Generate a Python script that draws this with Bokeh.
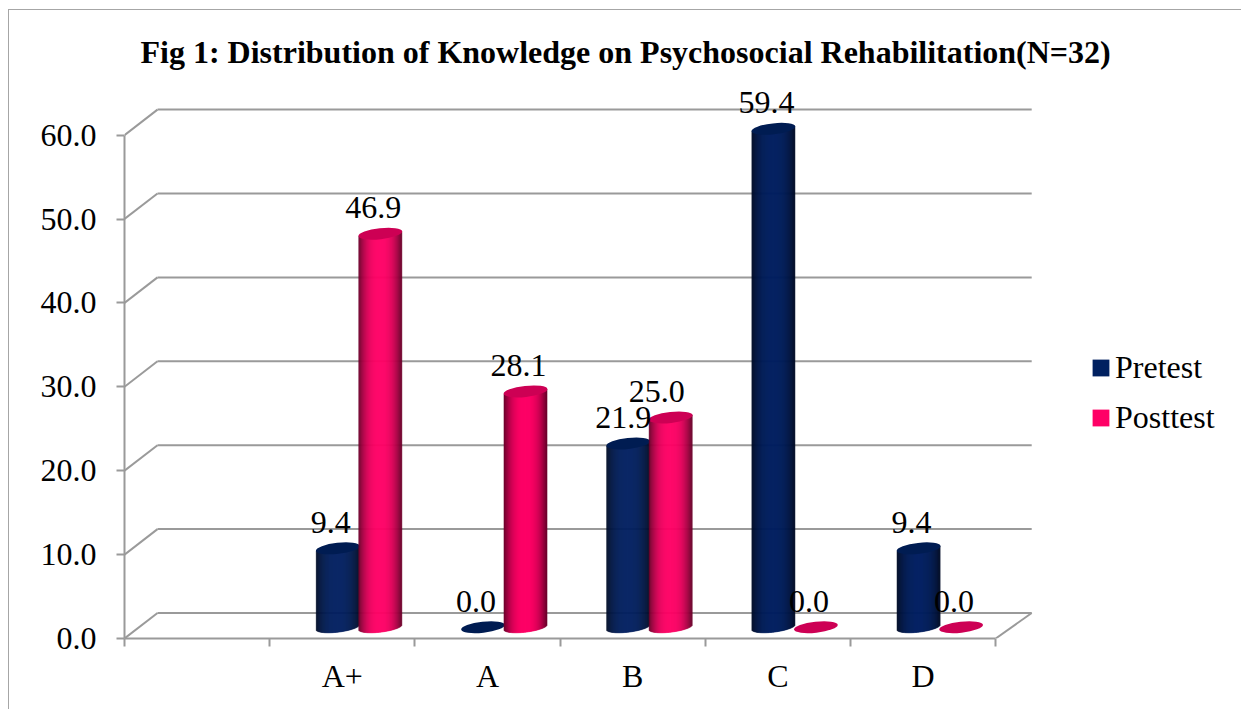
import math
from bokeh.plotting import figure
from bokeh.embed import file_html
from bokeh.resources import INLINE
from bokeh.core.properties import value
from bokeh.models import (ColumnDataSource, FixedTicker, NumeralTickFormatter,
                          Legend, LegendItem, Range1d)

categories = ["", "A+", "A", "B", "C", "D"]
pretest = [None, 9.4, 0.0, 21.9, 59.4, 9.4]
posttest = [None, 46.9, 28.1, 25.0, 0.0, 0.0]
y_ticks = [0, 10, 20, 30, 40, 50, 60]
title_text = "Fig 1: Distribution of Knowledge on Psychosocial Rehabilitation(N=32)"

FONT = "Liberation Serif"
GREY = "#9a9a9a"
NAVY = (0, 32, 96)
PINK = (255, 0, 102)
W, H = 1233, 700
LEFT, BOTTOM, TOP = 115, 72, 75          # px of figure reserved around the frame
PX_X, PX_Y = 145.2, 8.39                 # px per category / per value unit
DEPTH_X, DEPTH_Y = 33 / PX_X, 25.5 / PX_Y  # wall depth
RIGHT_EXTRA = 3 / PX_X
FRONT_X, FRONT_Y = 14 / PX_X, 11.3 / PX_Y
BAR_W = 43
HALF_E = 5
TILT = 2.5

p = figure(width=W, height=H, output_backend="svg", toolbar_location=None,
           margin=(9, 0, 0, 8),
           x_range=Range1d(0, (W - LEFT) / PX_X),
           y_range=Range1d(0, (H - BOTTOM - TOP) / PX_Y),
           min_border_left=LEFT, min_border_right=0, min_border_top=TOP, min_border_bottom=BOTTOM,
           background_fill_color="white", border_fill_color="white", outline_line_color=None)
p.styles = {"border-left": "1px solid #a6a6a6", "border-top": "1px solid #a6a6a6", "box-sizing": "border-box"}
p.grid.visible = False

p.title.text = title_text
p.title.text_font = FONT
p.title.text_font_size = "32px"
p.title.text_font_style = "bold"
p.title.text_color = "black"
p.title.align = "left"
p.title.offset = 16
p.title.standoff = 31

ax = p.yaxis[0]
ax.ticker = FixedTicker(ticks=y_ticks)
ax.bounds = (0, 60)
ax.formatter = NumeralTickFormatter(format="0.0")
ax.major_label_text_font = FONT
ax.major_label_text_font_size = "32px"
ax.major_label_text_color = "black"
ax.major_tick_in = 0
ax.major_tick_out = 8
ax.minor_tick_out = 0
ax.minor_tick_in = 0
ax.major_label_standoff = 20
ax.axis_line_color = GREY
ax.axis_line_width = 2
ax.major_tick_line_color = GREY
ax.major_tick_line_width = 2

n = len(categories)
bx = p.xaxis[0]
bx.ticker = FixedTicker(ticks=[i + 0.5 for i in range(n)], minor_ticks=list(range(n + 1)))
bx.bounds = (0, n)
bx.major_label_overrides = {i + 0.5: c for i, c in enumerate(categories)}
bx.major_label_text_font = FONT
bx.major_label_text_font_size = "32px"
bx.major_label_text_color = "black"
bx.major_tick_in = 0
bx.major_tick_out = 0
bx.minor_tick_in = 0
bx.minor_tick_out = 8
bx.major_label_standoff = 11
bx.axis_line_color = GREY
bx.axis_line_width = 2
bx.minor_tick_line_color = GREY
bx.minor_tick_line_width = 2

# walls
for v in y_ticks:
    p.line([0, DEPTH_X], [v, v + DEPTH_Y], line_color=GREY, line_width=2)
    p.line([DEPTH_X, n + DEPTH_X + RIGHT_EXTRA], [v + DEPTH_Y, v + DEPTH_Y], line_color=GREY, line_width=2)
p.line([n, n + DEPTH_X + RIGHT_EXTRA], [0, DEPTH_Y], line_color=GREY, line_width=2)


def shade(rgb, u):
    f = 1 - 0.6 * abs(u) ** 2.5
    return "#%02x%02x%02x" % tuple(int(c * f) for c in rgb)


def cylinder(cx, v, rgb, top_rgb):
    """Shaded cylinder standing on the floor; cx in category units, v in value units."""
    base = FRONT_Y
    if v > 0:
        l, r, t, b, c = [], [], [], [], []
        for k in range(BAR_W):
            u = (k + 0.5) / BAR_W * 2 - 1
            slope = TILT * u / PX_Y
            l.append(cx + (k - BAR_W / 2) / PX_X)
            r.append(cx + (k + 1 - BAR_W / 2) / PX_X)
            t.append(base + v + slope)
            b.append(base + slope - HALF_E * math.sqrt(1 - u * u) / PX_Y)
            c.append(shade(rgb, u))
        src = ColumnDataSource(dict(l=l, r=r, t=t, b=b, c=c))
        p.quad(left="l", right="r", top="t", bottom="b", fill_color="c", line_color="c",
               line_width=0.6, source=src)
    p.ellipse([cx], [base + v], width=BAR_W + 1, height=2 * HALF_E + 1,
              width_units="screen", height_units="screen", angle=0.11,
              fill_color="#%02x%02x%02x" % top_rgb, line_color=None)


NAVY_TOP, PINK_TOP = (0, 28, 82), (205, 0, 84)
NAVY_DX, PINK_DX = -4.5 / PX_X, 38 / PX_X
label_shift = {(3, 0): -5, (3, 1): -14}
lx, ly, lt, ldx = [], [], [], []
for i in range(1, n):
    c = i + 0.5
    for s, (vals, col, top, dx) in enumerate([(pretest, NAVY, NAVY_TOP, NAVY_DX),
                                              (posttest, PINK, PINK_TOP, PINK_DX)]):
        v = vals[i]
        cylinder(c + dx, v, col, top)
        lx.append(c + dx)
        ly.append(v + FRONT_Y)
        lt.append("%.1f" % v)
        ldx.append(label_shift.get((i, s), -7))

p.text(x="x", y="y", text="t", x_offset="d", y_offset=-26, source=ColumnDataSource(dict(x=lx, y=ly, t=lt, d=ldx)),
       text_font=value(FONT), text_font_size="32px", text_color="black",
       text_align="center", text_baseline="alphabetic")

# legend
r1 = p.quad(left=[0], right=[0], top=[0], bottom=[0], fill_color="#002060", line_color=None)
r2 = p.quad(left=[0], right=[0], top=[0], bottom=[0], fill_color="#ff0066", line_color=None)
leg = Legend(items=[LegendItem(label="Pretest", renderers=[r1]), LegendItem(label="Posttest", renderers=[r2])],
             location=(966, 202), border_line_color=None, background_fill_alpha=0,
             label_text_font=FONT, label_text_font_size="32px", label_text_color="black",
             glyph_width=21, glyph_height=21, spacing=13, margin=0, padding=0, label_standoff=4)
p.add_layout(leg)

open("out.html", "w").write(file_html(p, INLINE))
